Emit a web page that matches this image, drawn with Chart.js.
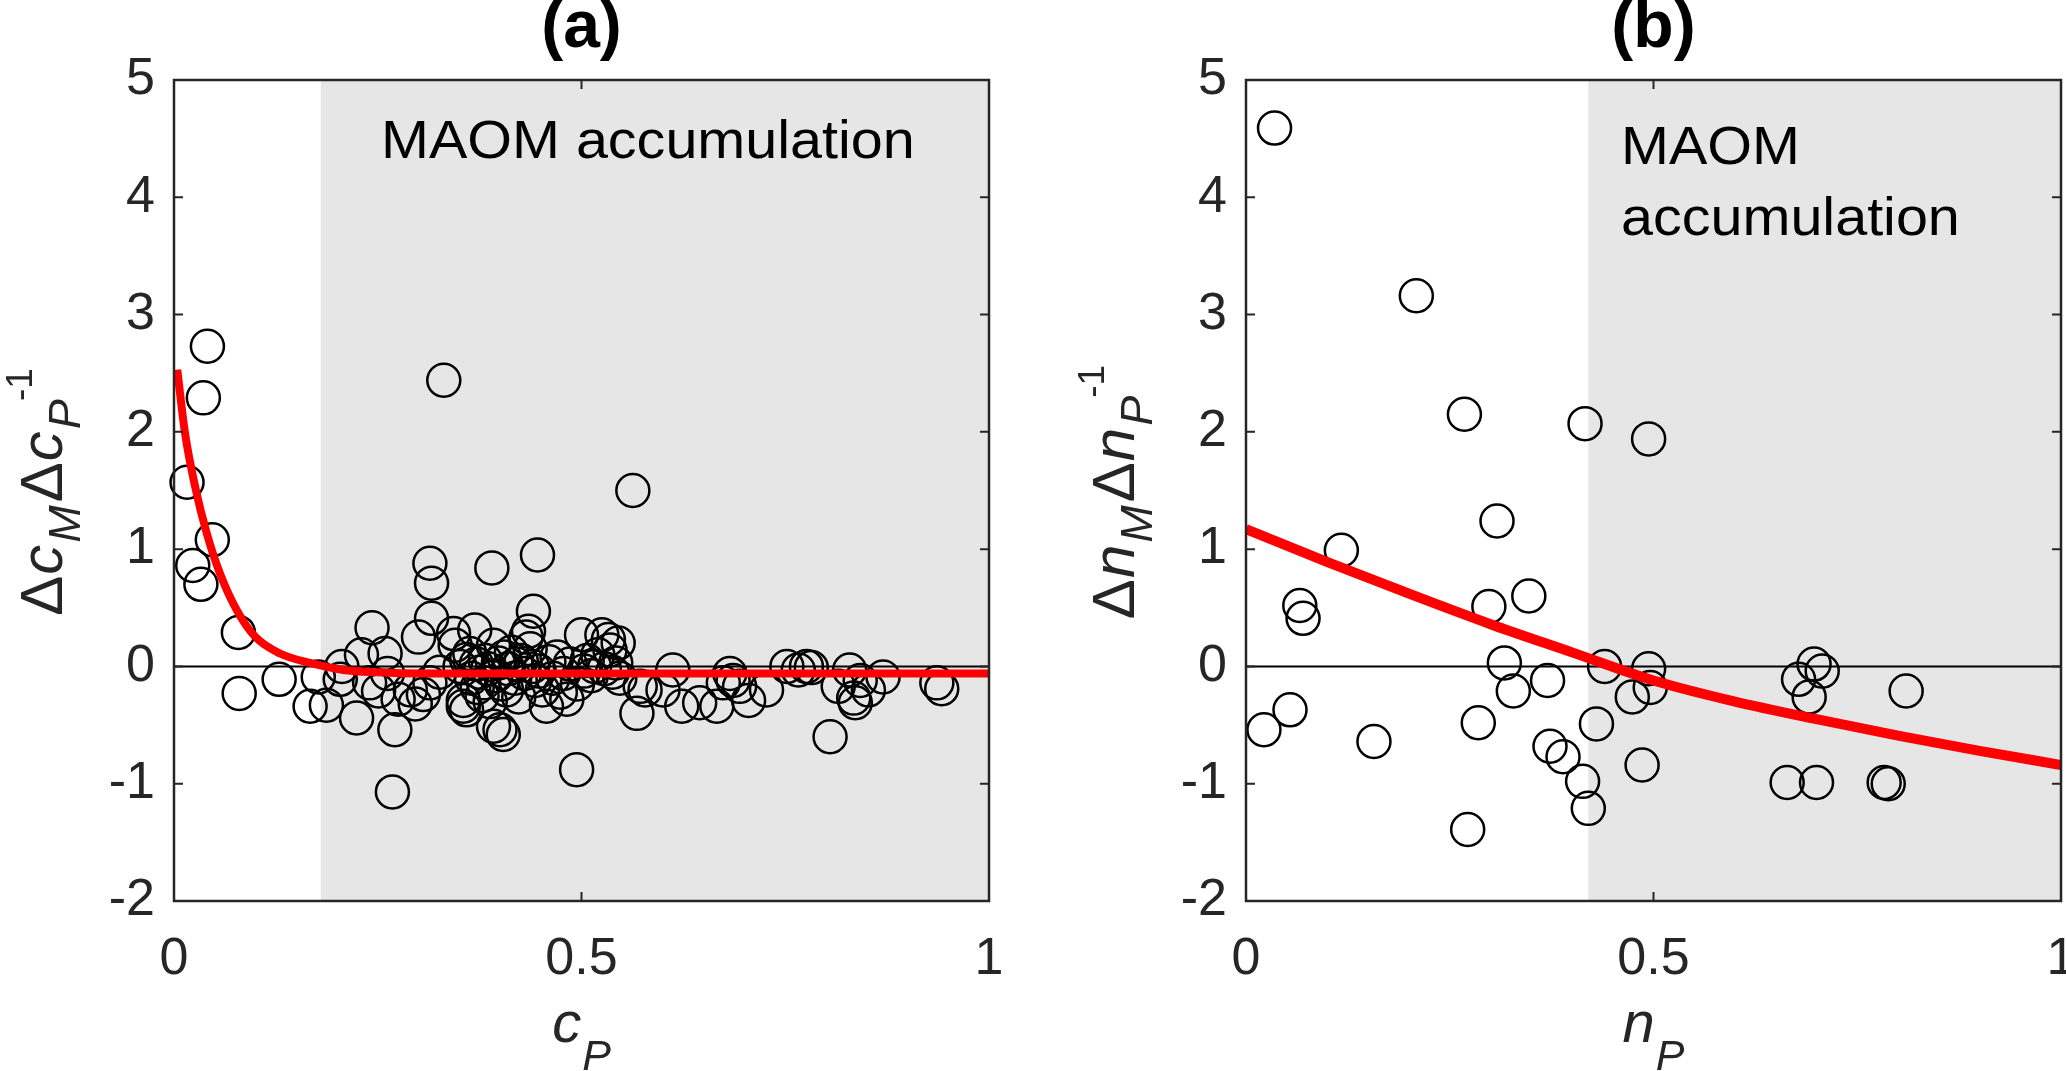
<!DOCTYPE html>
<html>
<head>
<meta charset="utf-8">
<script src="https://cdn.jsdelivr.net/npm/chart.js@4.4.1/dist/chart.umd.min.js"></script>
<style>
    html, body { margin: 0; padding: 0; background: #ffffff; }
    #wrap { position: relative; width: 2066px; height: 1071px; overflow: hidden; }
    canvas { position: absolute; top: 0; }
</style>
</head>
<body>
<div id="wrap">
    <canvas id="chartA" width="1033" height="1071" style="left:0px"></canvas>
    <canvas id="chartB" width="1033" height="1071" style="left:1033px"></canvas>
</div>
<script>
// Panel (a): carbon
const cpValues = [
    0.016, 0.023, 0.033, 0.036, 0.041, 0.047, 0.079, 0.080, 0.129, 0.167,
    0.177, 0.187, 0.204, 0.206, 0.224, 0.230, 0.240, 0.243, 0.251, 0.259,
    0.268, 0.271, 0.262, 0.275, 0.290, 0.296, 0.300, 0.306, 0.314, 0.314,
    0.316, 0.316, 0.331, 0.326, 0.343, 0.345, 0.351, 0.355, 0.355, 0.359,
    0.359, 0.363, 0.365, 0.369, 0.371, 0.372, 0.375, 0.378, 0.380, 0.382,
    0.385, 0.388, 0.390, 0.392, 0.392, 0.395, 0.398, 0.400, 0.402, 0.404,
    0.405, 0.408, 0.410, 0.414, 0.418, 0.420, 0.423, 0.426, 0.430, 0.432,
    0.435, 0.437, 0.440, 0.441, 0.443, 0.446, 0.448, 0.452, 0.457, 0.460,
    0.465, 0.470, 0.474, 0.478, 0.482, 0.486, 0.494, 0.495, 0.500, 0.503,
    0.507, 0.512, 0.516, 0.520, 0.525, 0.528, 0.533, 0.535, 0.538, 0.542,
    0.547, 0.545, 0.563, 0.568, 0.572, 0.578, 0.600, 0.612, 0.623, 0.645,
    0.666, 0.674, 0.682, 0.686, 0.694, 0.705, 0.727, 0.752, 0.766, 0.776,
    0.782, 0.805, 0.815, 0.829, 0.834, 0.836, 0.842, 0.852, 0.870, 0.936,
    0.942
];
const dcRatioValues = [
    1.57, 0.86, 0.70, 2.29, 2.73, 1.08, 0.29, -0.23, -0.11, -0.34,
    -0.09, -0.33, -0.11, 0.00, -0.44, 0.10, -0.14, 0.33, -0.21, 0.11,
    -1.07, -0.54, -0.06, -0.28, -0.20, -0.32, 0.25, -0.24, -0.14, 0.88,
    0.71, 0.41, 2.44, -0.05, 0.28, 0.18, 0.00, -0.29, -0.34, -0.37,
    0.06, 0.11, -0.10, 0.31, 0.02, -0.18, -0.05, -0.25, -0.14, 0.05,
    -0.02, -0.30, 0.84, 0.18, -0.51, -0.08, 0.03, -0.54, -0.15, -0.58,
    0.08, -0.20, -0.02, 0.12, -0.10, 0.02, -0.26, 0.05, -0.06, 0.25,
    0.30, 0.15, 0.00, 0.47, -0.12, 0.95, -0.04, -0.20, -0.34, 0.04,
    -0.10, 0.08, -0.22, -0.06, -0.28, 0.02, -0.88, -0.15, 0.27, -0.04,
    0.05, -0.08, 0.00, 0.10, 0.27, -0.02, 0.23, 0.14, -0.05, 0.03,
    -0.10, 0.20, 1.50, -0.40, -0.17, -0.20, -0.20, -0.03, -0.34, -0.31,
    -0.34, -0.14, -0.06, -0.12, -0.17, -0.29, -0.20, 0.00, -0.03, 0.00,
    -0.01, -0.60, -0.17, -0.03, -0.27, -0.31, -0.12, -0.20, -0.09, -0.14,
    -0.19
];
const fitAX = [0.004, 0.0135, 0.026, 0.040, 0.056, 0.077, 0.100, 0.130, 0.167, 0.208, 0.250, 0.300, 0.400, 0.600, 0.800, 1.000];
const fitAY = [2.53, 1.99, 1.53, 1.14, 0.80, 0.48, 0.25, 0.11, 0.03, -0.03, -0.05, -0.06, -0.06, -0.06, -0.06, -0.06];

// Panel (b): nitrogen
const npValues = [
    0.035, 0.209, 0.268, 0.416, 0.494, 0.308, 0.117, 0.066, 0.070, 0.298,
    0.347, 0.317, 0.328, 0.370, 0.440, 0.474, 0.494, 0.496, 0.430, 0.486,
    0.413, 0.420, 0.389, 0.373, 0.285, 0.272, 0.157, 0.054, 0.022, 0.678,
    0.691, 0.697, 0.707, 0.664, 0.700, 0.783, 0.788, 0.810
];
const dnRatioValues = [
    4.59, 3.16, 2.15, 2.07, 1.94, 1.24, 0.99, 0.52, 0.41, 0.51,
    0.60, 0.03, -0.21, -0.12, 0.00, -0.26, -0.02, -0.18, -0.49, -0.84,
    -0.98, -1.21, -0.77, -0.68, -0.48, -1.39, -0.64, -0.37, -0.54, -0.11,
    -0.26, 0.02, -0.04, -0.99, -0.99, -0.99, -1.00, -0.21
];
const fitBX = [0, 0.1, 0.2, 0.3, 0.4, 0.5, 0.6, 0.7, 0.8, 0.9, 1.0];
const fitBY = [1.17, 0.89, 0.62, 0.36, 0.12, -0.12, -0.30, -0.45, -0.59, -0.72, -0.84];

// Axes
const xTickValues = [0, 0.5, 1];
const xTickLabels = ['0', '0.5', '1'];
const yTickValues = [-2, -1, 0, 1, 2, 3, 4, 5];
const yTickLabels = ['-2', '-1', '0', '1', '2', '3', '4', '5'];
const shadeStartA = 0.18;
const shadeStartB = 0.42;

const FONT = '"Liberation Sans", Arial, Helvetica, sans-serif';
const AXIS_COLOR = '#262626';

function toPoints(xs, ys) {
    return xs.map((v, i) => ({ x: v, y: ys[i] }));
}

function tickText(values, labels) {
    return (value) => {
        const i = values.findIndex(v => Math.abs(v - value) < 1e-9);
        return i >= 0 ? labels[i] : '';
    };
}

// text runs: [text, size, italic, baselineShift, kernBefore]
function drawRuns(ctx, runs, x, y, rotate) {
    ctx.save();
    ctx.translate(x, y);
    if (rotate) ctx.rotate(-Math.PI / 2);
    let total = 0;
    const widths = runs.map(r => {
        ctx.font = (r[2] ? 'italic ' : '') + r[1] + 'px ' + FONT;
        const w = ctx.measureText(r[0]).width;
        total += w + (r[4] || 0);
        return w;
    });
    let cx = -total / 2;
    ctx.fillStyle = AXIS_COLOR;
    ctx.textBaseline = 'alphabetic';
    ctx.textAlign = 'left';
    runs.forEach((r, i) => {
        cx += (r[4] || 0);
        ctx.font = (r[2] ? 'italic ' : '') + r[1] + 'px ' + FONT;
        ctx.fillText(r[0], cx, r[3]);
        cx += widths[i];
    });
    ctx.restore();
}

function drawWideText(ctx, text, x, y, size, stretch) {
    ctx.save();
    ctx.translate(x, y);
    ctx.scale(stretch, 1);
    ctx.font = size + 'px ' + FONT;
    ctx.fillStyle = '#000000';
    ctx.textAlign = 'left';
    ctx.textBaseline = 'alphabetic';
    ctx.fillText(text, 0, 0);
    ctx.restore();
}

const panelText = {
    chartA: {
        title: '(a)',
        note: ['MAOM accumulation'],
        noteX: 381, noteY: 158,
        xLabel: [['c', 58, true, 0], ['P', 43, true, 28, 1]],
        yLabel: [['Δ', 60, false, 0], ['c', 60, true, 0, 1], ['M', 45, true, 18, 2],
                 ['Δ', 60, false, 0, 3], ['c', 60, true, 0, 1], ['P', 45, true, 18, 2], ['-1', 37, false, -30, -2]]
    },
    chartB: {
        title: '(b)',
        note: ['MAOM', 'accumulation'],
        noteX: 1621 - 1033, noteY: 164,
        xLabel: [['n', 58, true, 0], ['P', 43, true, 28, 1]],
        yLabel: [['Δ', 60, false, 0], ['n', 60, true, 0, 1], ['M', 45, true, 18, 2],
                 ['Δ', 60, false, 0, 3], ['n', 60, true, 0, 1], ['P', 45, true, 18, 2], ['-1', 37, false, -30, -2]]
    }
};

const panelDecor = {
    id: 'panelDecor',
    beforeDatasetsDraw(chart, args, opts) {
        const { ctx, chartArea: a, scales: { x, y } } = chart;
        ctx.save();
        const xs = x.getPixelForValue(opts.shadeFrom);
        ctx.fillStyle = '#e6e6e6';
        ctx.fillRect(xs, a.top, a.right - xs, a.bottom - a.top);
        const y0 = y.getPixelForValue(0);
        ctx.strokeStyle = '#000000';
        ctx.lineWidth = 2;
        ctx.beginPath();
        ctx.moveTo(a.left, y0);
        ctx.lineTo(a.right, y0);
        ctx.stroke();
        ctx.restore();
    },
    afterDraw(chart) {
        const { ctx, chartArea: a, scales: { x, y } } = chart;
        const t = panelText[chart.canvas.id];
        ctx.save();
        // box with inward ticks
        ctx.strokeStyle = AXIS_COLOR;
        ctx.lineWidth = 2.5;
        ctx.strokeRect(a.left, a.top, a.right - a.left, a.bottom - a.top);
        ctx.lineWidth = 2;
        const tl = 9;
        ctx.beginPath();
        yTickValues.forEach(v => {
            const py = y.getPixelForValue(v);
            ctx.moveTo(a.left, py); ctx.lineTo(a.left + tl, py);
            ctx.moveTo(a.right, py); ctx.lineTo(a.right - tl, py);
        });
        xTickValues.forEach(v => {
            const px = x.getPixelForValue(v);
            ctx.moveTo(px, a.bottom); ctx.lineTo(px, a.bottom - tl);
            ctx.moveTo(px, a.top); ctx.lineTo(px, a.top + tl);
        });
        ctx.stroke();
        ctx.restore();

        // title
        ctx.save();
        ctx.font = 'bold 66px ' + FONT;
        ctx.fillStyle = '#000000';
        ctx.textAlign = 'center';
        ctx.textBaseline = 'alphabetic';
        ctx.fillText(t.title, (a.left + a.right) / 2, 47);
        ctx.restore();

        // shaded-region note
        t.note.forEach((line, i) => {
            drawWideText(ctx, line, t.noteX, t.noteY + i * 71, 54, 1.065);
        });

        // axis labels
        drawRuns(ctx, t.xLabel, (a.left + a.right) / 2, 1042, false);
        drawRuns(ctx, t.yLabel, a.left - 112, 492, true);
    }
};

function buildChart(canvasId, xs, ys, fitX, fitY, fitWidth, shadeFrom, yAxisWidth, rightPad) {
    const ctx = document.getElementById(canvasId);
    return new Chart(ctx, {
        type: 'scatter',
        data: {
            datasets: [{
                type: 'line',
                data: toPoints(fitX, fitY),
                borderColor: '#ff0000',
                borderWidth: fitWidth,
                pointRadius: 0,
                cubicInterpolationMode: 'monotone',
                fill: false
            }, {
                data: toPoints(xs, ys),
                showLine: false,
                pointStyle: 'circle',
                pointRadius: 16.5,
                pointBorderWidth: 2.5,
                borderColor: '#000000',
                backgroundColor: 'rgba(0,0,0,0)',
                clip: false
            }]
        },
        options: {
            responsive: false,
            animation: false,
            devicePixelRatio: 1,
            layout: {
                autoPadding: false,
                padding: { left: 0, right: rightPad, top: 80, bottom: 0 }
            },
            plugins: {
                legend: { display: false },
                tooltip: { enabled: false },
                panelDecor: { shadeFrom: shadeFrom }
            },
            scales: {
                x: {
                    type: 'linear',
                    min: 0,
                    max: 1,
                    grid: { display: false, drawTicks: false },
                    border: { display: false },
                    ticks: {
                        stepSize: 0.5,
                        padding: 27,
                        color: AXIS_COLOR,
                        font: { family: FONT, size: 52 },
                        maxRotation: 0,
                        callback: tickText(xTickValues, xTickLabels)
                    },
                    afterFit: (scale) => {
                        scale.height = 170;
                        scale.paddingLeft = 0;
                        scale.paddingRight = 0;
                    }
                },
                y: {
                    type: 'linear',
                    min: -2,
                    max: 5,
                    grid: { display: false, drawTicks: false },
                    border: { display: false },
                    ticks: {
                        stepSize: 1,
                        padding: 19,
                        color: AXIS_COLOR,
                        font: { family: FONT, size: 52 },
                        callback: tickText(yTickValues, yTickLabels)
                    },
                    afterFit: (scale) => {
                        scale.width = yAxisWidth;
                        scale.paddingTop = 0;
                        scale.paddingBottom = 0;
                    }
                }
            }
        },
        plugins: [panelDecor]
    });
}

buildChart('chartA', cpValues, dcRatioValues, fitAX, fitAY, 8, shadeStartA, 174, 44);
buildChart('chartB', npValues, dnRatioValues, fitBX, fitBY, 10, shadeStartB, 213, 5);
</script>
</body>
</html>
